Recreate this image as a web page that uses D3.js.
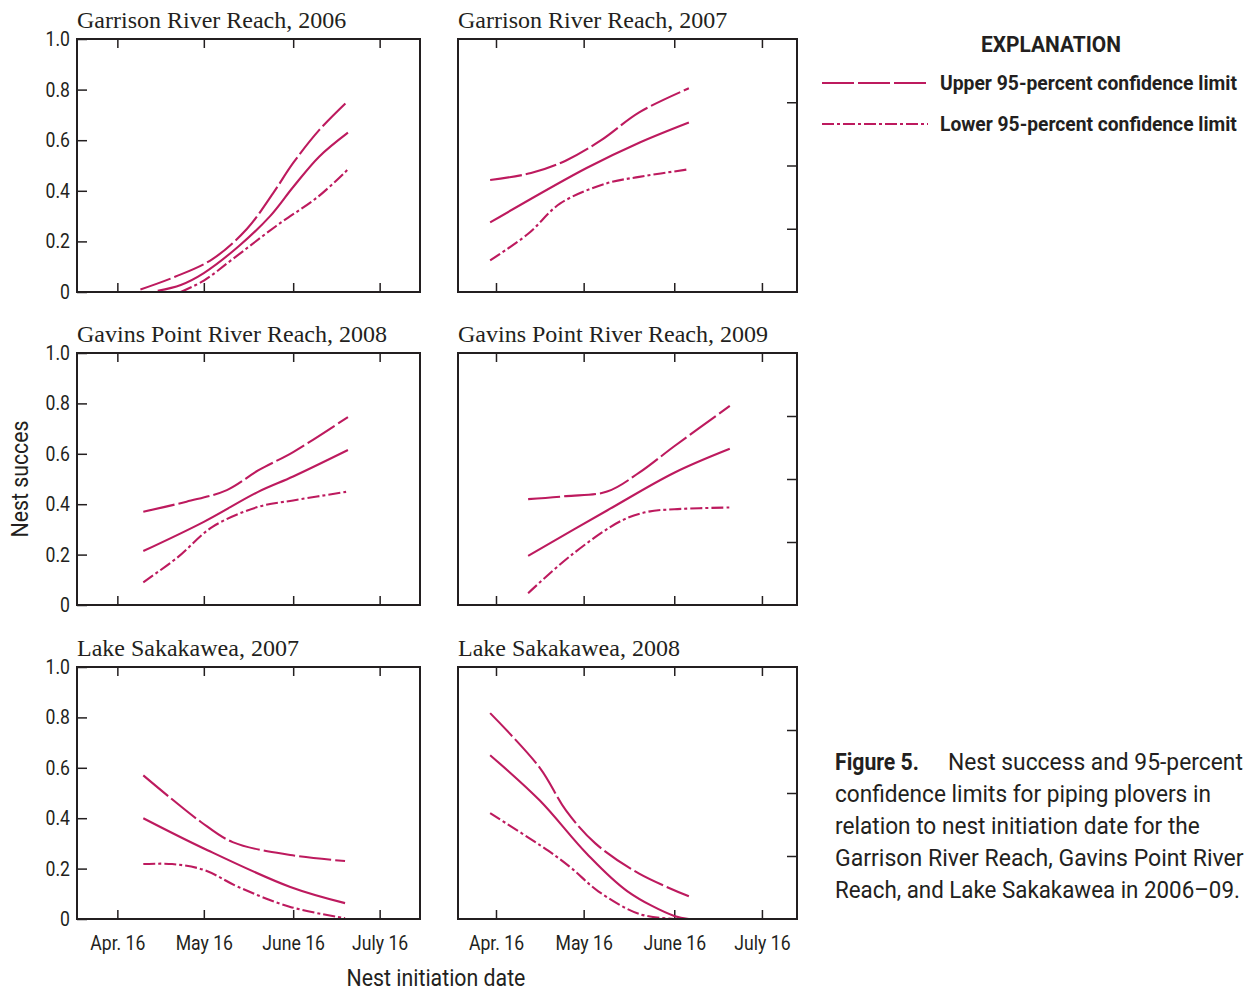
<!DOCTYPE html>
<html><head><meta charset="utf-8">
<script src="https://cdn.jsdelivr.net/npm/d3@7"></script>
<style>
body{margin:0;background:#fff}
svg text{fill:#231f20}
.cond{font-family:Roboto,"Liberation Sans",sans-serif}
.serif{font-family:"Liberation Serif","Times New Roman",serif}
</style></head><body>
<svg id="chart" width="1245" height="991"></svg>
<script>
// Axis ticks and labels
const xTickDates = ["Apr 16", "May 16", "Jun 16", "Jul 16"];
const xTickLabels = ["Apr. 16", "May 16", "June 16", "July 16"];
const yTickValues = [0, 0.2, 0.4, 0.6, 0.8, 1.0];
const yTickLabels = ["0", "0.2", "0.4", "0.6", "0.8", "1.0"];
const rightTickValues = [0.25, 0.5, 0.75];

const panelTitles = [
  "Garrison River Reach, 2006", "Garrison River Reach, 2007",
  "Gavins Point River Reach, 2008", "Gavins Point River Reach, 2009",
  "Lake Sakakawea, 2007", "Lake Sakakawea, 2008"
];

// Nest success by initiation date: estimate, upper and lower 95-percent limits
const garrison2006Estimate = [["Apr 30",0.005],["May 8",0.028],["May 16",0.075],["May 28",0.18],["Jun 8",0.30],["Jun 16",0.415],["Jun 25",0.535],["Jul 5",0.63]];
const garrison2006Upper = [["Apr 24",0.01],["May 6",0.06],["May 19",0.13],["May 31",0.25],["Jun 9",0.39],["Jun 16",0.51],["Jun 25",0.64],["Jul 5",0.755]];
const garrison2006Lower = [["May 8",0.0],["May 16",0.045],["May 26",0.13],["Jun 10",0.26],["Jun 25",0.38],["Jul 5",0.485]];

const garrison2007Estimate = [["Apr 14",0.275],["May 17",0.49],["Jun 4",0.59],["Jun 21",0.67]];
const garrison2007Upper = [["Apr 14",0.443],["Apr 28",0.47],["May 10",0.52],["May 22",0.60],["Jun 4",0.71],["Jun 21",0.805]];
const garrison2007Lower = [["Apr 14",0.125],["Apr 27",0.23],["May 8",0.35],["May 24",0.43],["Jun 4",0.455],["Jun 21",0.485]];

const gavins2008Estimate = [["Apr 25",0.214],["May 16",0.33],["Jun 4",0.45],["Jun 16",0.51],["Jul 5",0.615]];
const gavins2008Upper = [["Apr 25",0.37],["May 10",0.41],["May 24",0.456],["Jun 4",0.535],["Jun 16",0.607],["Jul 5",0.746]];
const gavins2008Lower = [["Apr 25",0.09],["May 7",0.19],["May 19",0.31],["Jun 4",0.39],["Jun 16",0.415],["Jul 5",0.45]];

const gavins2009Estimate = [["Apr 27",0.195],["May 24",0.375],["Jun 16",0.525],["Jul 5",0.62]];
const gavins2009Upper = [["Apr 27",0.42],["May 10",0.432],["May 24",0.45],["Jun 4",0.525],["Jun 16",0.63],["Jul 5",0.79]];
const gavins2009Lower = [["Apr 27",0.047],["May 12",0.20],["May 29",0.335],["Jun 7",0.37],["Jun 16",0.38],["Jul 5",0.387]];

const sakakawea2007Estimate = [["Apr 25",0.40],["May 16",0.28],["Jun 15",0.127],["Jul 4",0.063]];
const sakakawea2007Upper = [["Apr 25",0.57],["May 5",0.475],["May 15",0.385],["May 26",0.305],["Jun 15",0.254],["Jul 4",0.23]];
const sakakawea2007Lower = [["Apr 25",0.218],["May 5",0.218],["May 16",0.195],["May 28",0.127],["Jun 15",0.048],["Jul 4",0.003]];

const sakakawea2008Estimate = [["Apr 14",0.65],["May 1",0.47],["May 17",0.26],["May 31",0.11],["Jun 16",0.012],["Jun 21",0.0]];
const sakakawea2008Upper = [["Apr 14",0.817],["May 1",0.60],["May 10",0.43],["May 20",0.30],["Jun 4",0.18],["Jun 21",0.09]];
const sakakawea2008Lower = [["Apr 14",0.42],["May 4",0.27],["May 12",0.20],["May 21",0.11],["Jun 4",0.02],["Jun 16",0.0]];

const panelSeries = [
  [garrison2006Estimate, garrison2006Upper, garrison2006Lower],
  [garrison2007Estimate, garrison2007Upper, garrison2007Lower],
  [gavins2008Estimate, gavins2008Upper, gavins2008Lower],
  [gavins2009Estimate, gavins2009Upper, gavins2009Lower],
  [sakakawea2007Estimate, sakakawea2007Upper, sakakawea2007Lower],
  [sakakawea2008Estimate, sakakawea2008Upper, sakakawea2008Lower]
];

const legendLabels = ["Upper 95-percent confidence limit", "Lower 95-percent confidence limit"];
const captionLead = ["Figure 5.", "Nest success and 95-percent"];
const captionLines = [
  "confidence limits for piping plovers in",
  "relation to nest initiation date for the",
  "Garrison River Reach, Gavins Point River",
  "Reach, and Lake Sakakawea in 2006\u201309."
];

// ---- drawing ----
const parseDay = d3.timeParse("%b %d");
const lineColor = "#bd1a5e";
const ink = "#231f20";
const styles = [
  {dash: null},          // estimate
  {dash: "32,4"},        // upper limit
  {dash: "12,3,3,3"}     // lower limit
];

// Squeeze a text horizontally about its anchor so it reads like a condensed face.
// `target` is either a scale factor (< 2) or a width in pixels.
function squeeze(sel, target, base) {
  sel.each(function () {
    const w = this.getComputedTextLength();
    if (!(w > 0)) return;
    const f = target < 2 ? target : target / w;
    const ax = +(this.getAttribute("x") || 0);
    const pre = base ? base + " " : "";
    d3.select(this).attr("transform", `${pre}translate(${ax},0) scale(${f},1) translate(${-ax},0)`);
  });
}

const svg = d3.select("#chart");
const columns = [
  {x: 77, w: 343, domain: ["Apr 2", "Jul 30"]},
  {x: 458, w: 339, domain: ["Apr 3", "Jul 28"]}
];
const rows = [{y: 39, h: 253}, {y: 353, h: 252}, {y: 667, h: 252}];

panelSeries.forEach((series, i) => {
  const col = columns[i % 2], row = rows[Math.floor(i / 2)];
  const isLeft = i % 2 === 0, isBottom = i >= 4;
  const g = svg.append("g").attr("transform", `translate(${col.x},${row.y})`);
  const x = d3.scaleTime().domain(col.domain.map(parseDay)).range([0, col.w]);
  const y = d3.scaleLinear().domain([0, 1]).range([row.h, 0]);

  // title
  g.append("text").attr("class", "serif").attr("x", 0).attr("y", -11)
    .attr("font-size", 24).text(panelTitles[i]);

  // inward ticks on the bottom and top edges
  const xb = d3.axisBottom(x).tickValues(xTickDates.map(parseDay))
    .tickSize(-9).tickPadding(16)
    .tickFormat((d, k) => isBottom ? xTickLabels[k] : "");
  const gb = g.append("g").attr("transform", `translate(0,${row.h})`).call(xb);
  const xt = d3.axisTop(x).tickValues(xTickDates.map(parseDay)).tickSize(-9).tickFormat("");
  const gt = g.append("g").call(xt);

  let gy;
  if (isLeft) {
    const ya = d3.axisLeft(y).tickValues(yTickValues).tickSize(-10).tickPadding(7)
      .tickFormat((d, k) => yTickLabels[k]);
    gy = g.append("g").call(ya);
  } else {
    const ya = d3.axisRight(y).tickValues(rightTickValues).tickSize(-10).tickFormat("");
    gy = g.append("g").attr("transform", `translate(${col.w},0)`).call(ya);
  }
  [gb, gt, gy].forEach(a => {
    a.select(".domain").remove();
    a.selectAll(".tick line").attr("stroke", ink).attr("stroke-width", 1.5);
    a.selectAll(".tick text").attr("class", "cond").attr("font-size", 20.5)
      .attr("fill", ink).call(squeeze, 0.86);
  });

  // curves
  series.forEach((pts, s) => {
    const line = d3.line().x(d => x(parseDay(d[0]))).y(d => y(d[1]))
      .curve(d3.curveCatmullRom.alpha(0.5));
    g.append("path").attr("d", line(pts)).attr("fill", "none")
      .attr("stroke", lineColor).attr("stroke-width", 2.1)
      .attr("stroke-dasharray", styles[s].dash);
  });

  // frame
  g.append("rect").attr("width", col.w).attr("height", row.h)
    .attr("fill", "none").attr("stroke", ink).attr("stroke-width", 2);
});

// axis titles
svg.append("text").attr("class", "cond").attr("font-size", 23)
  .attr("text-anchor", "middle").attr("x", 436).attr("y", 986).text("Nest initiation date")
  .call(squeeze, 179);
svg.append("text").attr("class", "cond").attr("font-size", 23)
  .attr("text-anchor", "middle").text("Nest succes")
  .call(squeeze, 117, "translate(28,479) rotate(-90)");

// explanation
svg.append("text").attr("class", "cond").attr("font-size", 22.5).attr("font-weight", "bold")
  .attr("text-anchor", "middle").attr("x", 1051).attr("y", 52).text("EXPLANATION")
  .call(squeeze, 140);
[1, 2].forEach((s, k) => {
  const yy = 83 + k * 41;
  svg.append("line").attr("x1", 822).attr("x2", 928).attr("y1", yy).attr("y2", yy)
    .attr("stroke", lineColor).attr("stroke-width", 2.1).attr("stroke-dasharray", styles[s].dash);
  svg.append("text").attr("class", "cond").attr("font-size", 20).attr("font-weight", "bold")
    .attr("x", 940).attr("y", yy + 7).text(legendLabels[k])
    .call(squeeze, 297);
});

// figure caption
const cap = svg.append("g").attr("class", "cond").attr("font-size", 23.5);
cap.append("text").attr("x", 835).attr("y", 770).attr("font-weight", "bold")
  .text(captionLead[0]).call(squeeze, 84);
cap.append("text").attr("x", 948).attr("y", 770).text(captionLead[1]).call(squeeze, 295);
const capWidths = [376, 365, 409, 405];
captionLines.forEach((t, k) => {
  cap.append("text").attr("x", 835).attr("y", 802 + k * 32).text(t).call(squeeze, capWidths[k]);
});
</script>
</body></html>
